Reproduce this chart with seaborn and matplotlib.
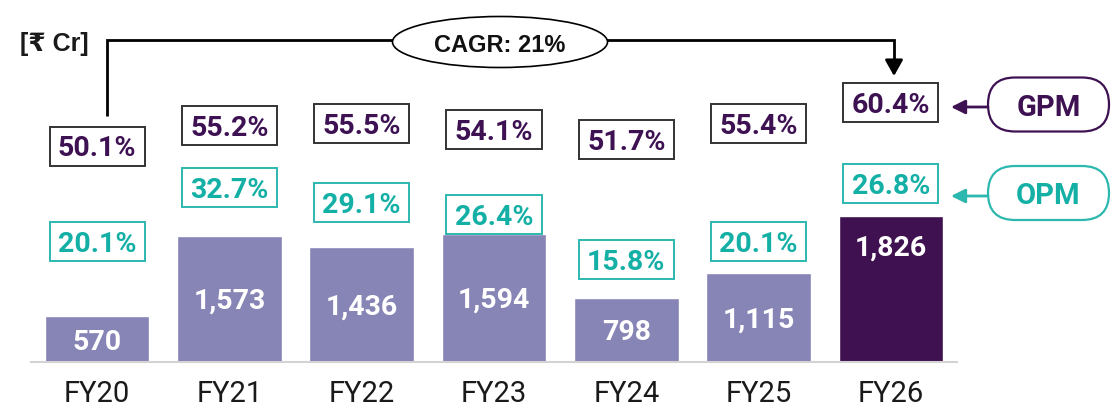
import matplotlib
matplotlib.use("Agg")
import matplotlib.pyplot as plt
import matplotlib.transforms as mtransforms
from matplotlib.patches import Rectangle, Ellipse, FancyBboxPatch
import seaborn as sns
import pandas as pd

# ---------------- data ----------------
years = ["FY20", "FY21", "FY22", "FY23", "FY24", "FY25", "FY26"]
revenue = [570, 1573, 1436, 1594, 798, 1115, 1826]
gpm = [50.1, 55.2, 55.5, 54.1, 51.7, 55.4, 60.4]
opm = [20.1, 32.7, 29.1, 26.4, 15.8, 20.1, 26.8]
cagr_label = "CAGR: 21%"
unit_label = "[₹ Cr]"

# ---------------- layout (pixels from top) ----------------
gpm_box_y = [146, 125, 123, 129, 139, 123, 102]
opm_box_y = [241, 187, 202, 214, 259, 241, 183]
value_label_y = [339, 298, 304, 297, 329, 317, 245]

LIGHT = "#8784B6"
DARK = "#3F1150"
PURPLE_TXT = "#3D1152"
TEAL = "#14AFA5"
TEAL_EDGE = "#2DB8AF"
GREY_EDGE = "#333333"
AXIS_GREY = "#D3D3D3"
FONT = ["Roboto", "DejaVu Sans"]

W, H = 1115, 412
sns.set_theme(style="white")
plt.rcParams["font.family"] = FONT

fig = plt.figure(figsize=(W / 100, H / 100), dpi=100)
ax = fig.add_axes([31 / W, 50 / H, (957 - 31) / W, 362 / H])

df = pd.DataFrame({"year": years, "revenue": revenue})
palette = {y: (DARK if i == len(years) - 1 else LIGHT) for i, y in enumerate(years)}
sns.barplot(data=df, x="year", y="revenue", hue="year", palette=palette,
            width=0.79, saturation=1, legend=False, ax=ax)

ax.set_xlim(-0.5, len(years) - 0.5)
ax.set_ylim(0, 362 / 0.08)
ax.set_xlabel("")
ax.set_ylabel("")
ax.set_yticks([])
for s in ["top", "right", "left"]:
    ax.spines[s].set_visible(False)
ax.spines["bottom"].set_color(AXIS_GREY)
ax.spines["bottom"].set_linewidth(1.5)
ax.set_xticks(range(len(years)))
ax.set_xticklabels(years, fontsize=21, color="#1a1a1a")
ax.tick_params(axis="x", which="major", length=0, pad=13)
ax.set_xticks([i - 0.5 for i in range(len(years) + 1)], minor=True)
ax.tick_params(axis="x", which="minor", length=6, width=1.5, color=AXIS_GREY,
               direction="out")
ax.set_facecolor("none")

# overlay in pixel coordinates
ov = fig.add_axes([0, 0, 1, 1])
ov.set_xlim(0, W)
ov.set_ylim(H, 0)
ov.axis("off")

blend = mtransforms.blended_transform_factory(ax.transData, ov.transData)

box_w = 0.72
box_h = 39
LBL = 20.5
for i in range(len(years)):
    ov.text(i, value_label_y[i], f"{revenue[i]:,}", transform=blend,
            ha="center", va="center_baseline", fontsize=LBL, fontweight="bold",
            color="white")
    ov.add_patch(Rectangle((i - box_w / 2, gpm_box_y[i] - box_h / 2), box_w, box_h,
                           transform=blend, facecolor="white", edgecolor=GREY_EDGE,
                           linewidth=1.4))
    ov.text(i, gpm_box_y[i], f"{gpm[i]:.1f}%", transform=blend, ha="center",
            va="center_baseline", fontsize=LBL, fontweight="bold", color=PURPLE_TXT)
    ov.add_patch(Rectangle((i - box_w / 2, opm_box_y[i] - box_h / 2), box_w, box_h,
                           transform=blend, facecolor="white", edgecolor=TEAL_EDGE,
                           linewidth=1.4))
    ov.text(i, opm_box_y[i], f"{opm[i]:.1f}%", transform=blend, ha="center",
            va="center_baseline", fontsize=LBL, fontweight="bold", color=TEAL)

# unit label
ov.text(20, 41, unit_label, ha="left", va="center_baseline", fontsize=18,
        fontweight="bold", color="#1a1a1a",
        family=["Liberation Sans", "DejaVu Sans", "Noto Sans"])

# CAGR bracket
ov.plot([107, 107, 894, 894], [116, 40, 40, 64], color="black", lw=2,
        solid_capstyle="butt", solid_joinstyle="miter")
ov.annotate("", xy=(894, 76), xytext=(894, 60),
            arrowprops=dict(arrowstyle="-|>,head_length=0.8,head_width=0.45",
                            color="black", lw=2, shrinkA=0, shrinkB=0))
ov.add_patch(Ellipse((500, 42), 215, 51, facecolor="white", edgecolor="black",
                     linewidth=1.2, zorder=3))
ov.text(500, 43, cagr_label, ha="center", va="center_baseline", fontsize=17,
        fontweight="bold", color="#111111", zorder=4,
        family=["Liberation Sans", "DejaVu Sans"])

# GPM / OPM pills
for label, cy, ay, col, tcol in [("GPM", 104.5, 107, PURPLE_TXT, PURPLE_TXT),
                                 ("OPM", 193, 196, TEAL_EDGE, TEAL)]:
    ov.add_patch(FancyBboxPatch((988, cy - 27), 121, 54,
                                boxstyle="round,pad=0,rounding_size=27",
                                facecolor="white", edgecolor=col, linewidth=1.6))
    ov.text(1048.5, cy, label, ha="center", va="center_baseline", fontsize=21,
            fontweight="bold", color=tcol)
    ov.annotate("", xy=(951, ay), xytext=(988, ay),
                arrowprops=dict(arrowstyle="-|>,head_length=0.7,head_width=0.35",
                                color=col, lw=2, shrinkA=0, shrinkB=0))

fig.savefig("out.png", dpi=100)
